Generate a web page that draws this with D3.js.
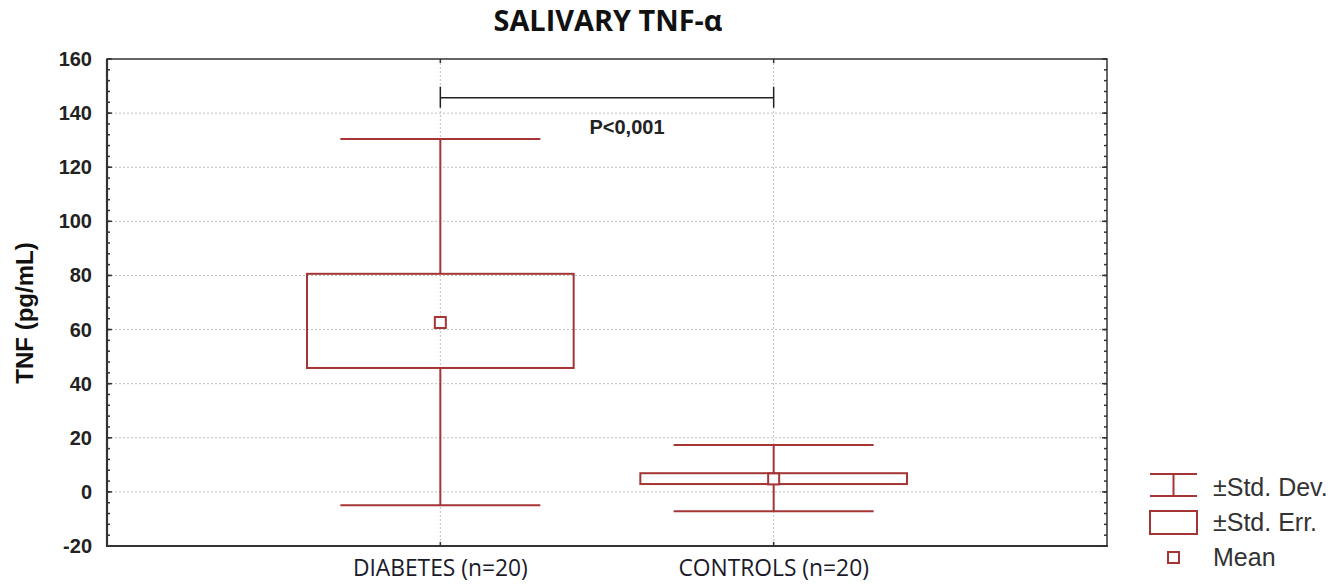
<!DOCTYPE html>
<html><head><meta charset="utf-8">
<script src="https://cdn.jsdelivr.net/npm/d3@7"></script>
<style>
body{margin:0;background:#fff;}
svg{display:block;}
</style></head>
<body>
<svg id="chart" width="1343" height="584"></svg>
<script>
const categories = ["DIABETES (n=20)", "CONTROLS (n=20)"];
const means  = [62.6, 4.8];
const seLow  = [45.8, 2.9];
const seHigh = [80.6, 6.9];
const sdLow  = [-4.9, -7.2];
const sdHigh = [130.4, 17.3];
const yTicks = [-20, 0, 20, 40, 60, 80, 100, 120, 140, 160];
const yMinor = d3.range(-20, 161, 4);
const pLabel = "P<0,001";
const pBracketY = 145.7;
const legendItems = ["\u00B1Std. Dev.", "\u00B1Std. Err.", "Mean"];

const red = "#a53535";
const svg = d3.select("#chart");
const L = 107, R = 1107, T = 59, B = 546;

const x = d3.scalePoint().domain(categories).range([L, R]).padding(1);
const y = d3.scaleLinear().domain([-20, 160]).range([B, T]);
const step = x.step();

function fitWidth(sel, target) {
  const w = sel.node().getComputedTextLength();
  const fs = parseFloat(sel.attr("font-size"));
  sel.attr("font-size", fs * target / w);
}

// title
const title = svg.append("text").attr("x", 608).attr("y", 31).attr("text-anchor", "middle")
  .attr("font-family", "'Open Sans', Lato, sans-serif").attr("font-weight", 700)
  .attr("font-size", 22).attr("fill", "#111").text("SALIVARY TNF-\u03B1");
fitWidth(title, 229);

// gridlines
const grid = svg.append("g");
grid.selectAll("line.h").data(yTicks.filter(d => d > -20 && d < 160)).join("line")
  .attr("x1", L).attr("x2", R).attr("y1", d => y(d)).attr("y2", d => y(d))
  .attr("stroke", "#c0c0c0").attr("stroke-width", 1).attr("stroke-dasharray", "2,2");
grid.selectAll("line.v").data(categories).join("line")
  .attr("x1", d => x(d)).attr("x2", d => x(d)).attr("y1", T).attr("y2", B)
  .attr("stroke", "#c0c0c0").attr("stroke-width", 1).attr("stroke-dasharray", "2,2");

// p-value bracket
const bx1 = x(categories[0]), bx2 = x(categories[1]), by = y(pBracketY);
const br = svg.append("g").attr("stroke", "#222").attr("stroke-width", 1.5);
br.append("line").attr("x1", bx1).attr("x2", bx2).attr("y1", by).attr("y2", by);
br.append("line").attr("x1", bx1).attr("x2", bx1).attr("y1", by - 11).attr("y2", by + 10);
br.append("line").attr("x1", bx2).attr("x2", bx2).attr("y1", by - 11).attr("y2", by + 10);
const pt = svg.append("text").attr("x", 627).attr("y", 134).attr("text-anchor", "middle")
  .attr("font-family", "'Liberation Sans', Arial, sans-serif").attr("font-weight", 700)
  .attr("font-size", 20).attr("fill", "#222").text(pLabel);
const pb = pt.node().getBBox();
svg.insert("rect", "text:last-of-type").attr("x", pb.x - 12).attr("y", pb.y).attr("width", pb.width + 24).attr("height", pb.height).attr("fill", "#fff");
pt.raise();

// boxes
const data = categories.map((c, i) => ({c, m: means[i], sl: seLow[i], sh: seHigh[i], dl: sdLow[i], dh: sdHigh[i]}));
const g = svg.append("g").attr("stroke", red).attr("fill", "none").attr("stroke-width", 2);
const capW = step * 0.3, boxW = step * 0.4;
data.forEach(d => {
  const cx = x(d.c);
  g.append("line").attr("x1", cx).attr("x2", cx).attr("y1", y(d.dh)).attr("y2", y(d.sh));
  g.append("line").attr("x1", cx).attr("x2", cx).attr("y1", y(d.sl)).attr("y2", y(d.dl));
  g.append("line").attr("x1", cx - capW).attr("x2", cx + capW).attr("y1", y(d.dh)).attr("y2", y(d.dh));
  g.append("line").attr("x1", cx - capW).attr("x2", cx + capW).attr("y1", y(d.dl)).attr("y2", y(d.dl));
  g.append("rect").attr("x", cx - boxW).attr("width", 2 * boxW)
    .attr("y", y(d.sh)).attr("height", y(d.sl) - y(d.sh));
  g.append("rect").attr("x", cx - 5.5).attr("y", y(d.m) - 5.5).attr("width", 11).attr("height", 11)
    .attr("fill", "#fff");
});

// axes frame
const ax = svg.append("g");
ax.append("rect").attr("x", L).attr("y", T).attr("width", R - L).attr("height", B - T)
  .attr("fill", "none").attr("stroke", "#333").attr("stroke-width", 1.5);
ax.append("line").attr("x1", L).attr("x2", L).attr("y1", T).attr("y2", B + 1).attr("stroke", "#333").attr("stroke-width", 2.2);
ax.append("line").attr("x1", L - 1).attr("x2", R + 1).attr("y1", B).attr("y2", B).attr("stroke", "#333").attr("stroke-width", 2.2);

// minor ticks left and right (inward)
ax.selectAll("line.ml").data(yMinor).join("line")
  .attr("x1", L).attr("x2", L + 3).attr("y1", d => y(d)).attr("y2", d => y(d))
  .attr("stroke", "#333").attr("stroke-width", 1.5);
ax.selectAll("line.mr").data(yMinor).join("line")
  .attr("x1", R - 3).attr("x2", R).attr("y1", d => y(d)).attr("y2", d => y(d))
  .attr("stroke", "#333").attr("stroke-width", 1.5);
// major ticks
ax.selectAll("line.Ml").data(yTicks).join("line")
  .attr("x1", L).attr("x2", L + 5).attr("y1", d => y(d)).attr("y2", d => y(d))
  .attr("stroke", "#333").attr("stroke-width", 1.5);
ax.selectAll("line.Mr").data(yTicks).join("line")
  .attr("x1", R - 5).attr("x2", R).attr("y1", d => y(d)).attr("y2", d => y(d))
  .attr("stroke", "#333").attr("stroke-width", 1.5);
// category ticks top/bottom
ax.selectAll("line.ct").data(categories).join("line")
  .attr("x1", d => x(d)).attr("x2", d => x(d)).attr("y1", T).attr("y2", T + 4)
  .attr("stroke", "#333").attr("stroke-width", 1.5);
ax.selectAll("line.cb").data(categories).join("line")
  .attr("x1", d => x(d)).attr("x2", d => x(d)).attr("y1", B - 4).attr("y2", B)
  .attr("stroke", "#333").attr("stroke-width", 1.5);

// y tick labels
svg.append("g").selectAll("text").data(yTicks).join("text")
  .attr("x", 92).attr("y", d => y(d) + 7).attr("text-anchor", "end")
  .attr("font-family", "'Liberation Sans', Arial, sans-serif").attr("font-weight", 700)
  .attr("font-size", 20).attr("fill", "#222").text(d => d);

// x labels
const xl = svg.append("g").selectAll("text").data(categories).join("text")
  .attr("x", d => x(d)).attr("y", 576).attr("text-anchor", "middle")
  .attr("font-family", "'Open Sans', Lato, sans-serif")
  .attr("font-size", 18).attr("fill", "#1a1a2a").text(d => d);
fitWidth(d3.select(xl.nodes()[0]), 175);
d3.select(xl.nodes()[1]).attr("font-size", d3.select(xl.nodes()[0]).attr("font-size"));

// y axis title
svg.append("text").attr("transform", "translate(33,313) rotate(-90)").attr("text-anchor", "middle")
  .attr("font-family", "'Liberation Sans', Arial, sans-serif").attr("font-weight", 700)
  .attr("font-size", 24).attr("fill", "#111").text("TNF (pg/mL)");

// legend
const lg = svg.append("g");
const lgX = 1150, lgW = 47;
lg.append("g").attr("stroke", red).attr("stroke-width", 2).call(s => {
  s.append("line").attr("x1", lgX).attr("x2", lgX + lgW).attr("y1", 474).attr("y2", 474);
  s.append("line").attr("x1", lgX).attr("x2", lgX + lgW).attr("y1", 496).attr("y2", 496);
  s.append("line").attr("x1", lgX + lgW / 2).attr("x2", lgX + lgW / 2).attr("y1", 474).attr("y2", 496);
  s.append("rect").attr("x", lgX).attr("y", 511).attr("width", lgW).attr("height", 23).attr("fill", "none");
  s.append("rect").attr("x", lgX + lgW / 2 - 5.5).attr("y", 552).attr("width", 11).attr("height", 11).attr("fill", "none");
});
lg.selectAll("text").data(legendItems).join("text")
  .attr("x", 1213).attr("y", (d, i) => 496 + i * 35)
  .attr("font-family", "'Liberation Sans', Arial, sans-serif")
  .attr("font-size", 25).attr("fill", "#333").text(d => d);
</script>
</body></html>
